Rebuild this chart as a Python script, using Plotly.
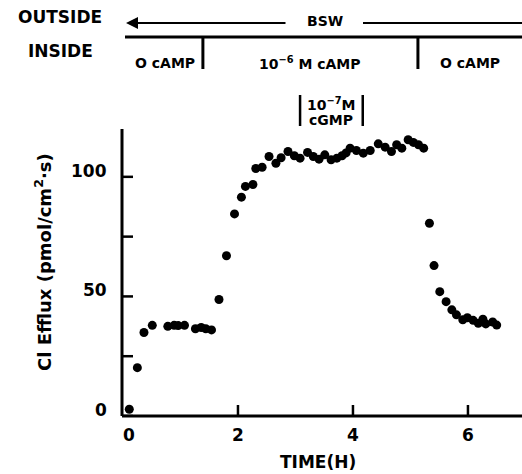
import plotly.graph_objects as go

# Data
time_h = [0.11, 0.25, 0.365, 0.51, 0.78, 0.89, 0.96, 1.07, 1.26, 1.36, 1.44, 1.54,
          1.67, 1.80, 1.94, 2.06, 2.13, 2.26, 2.31, 2.42, 2.54, 2.66, 2.75, 2.87,
          2.98, 3.08, 3.21, 3.31, 3.41, 3.51, 3.62, 3.72, 3.81, 3.88, 3.95, 4.06,
          4.18, 4.30, 4.44, 4.56, 4.67, 4.76, 4.85, 4.96, 5.05, 5.14, 5.23, 5.33,
          5.41, 5.51, 5.62, 5.72, 5.80, 5.91, 5.99, 6.09, 6.18, 6.26, 6.31, 6.43, 6.50]
cl_efflux = [2.8, 20.2, 34.9, 37.9, 37.5, 37.9, 37.8, 37.9, 36.5, 37.0, 36.5, 36.0,
             48.7, 67.0, 84.5, 91.5, 96.0, 96.8, 103.5, 104.0, 108.5, 105.7, 108.0, 110.6,
             108.8, 107.8, 110.2, 108.5, 107.4, 109.2, 107.1, 107.8, 108.8, 110.0, 112.0, 111.0,
             109.9, 111.0, 113.8, 112.4, 110.6, 113.4, 112.0, 115.5, 114.4, 113.4, 112.0, 80.6,
             62.9, 52.0, 47.8, 44.4, 42.3, 40.2, 41.1, 40.0, 38.8, 40.5, 38.5, 39.3, 38.0]

phase_bounds = [1.39, 5.13]          # cAMP added / removed (h)
phase_labels = ["O cAMP", "10<sup>\u22126</sup> M cAMP", "O cAMP"]
cgmp_window = [3.08, 4.17]           # 10^-7 M cGMP (h)

y_tickvals = [0, 25, 50, 75, 100]
y_ticktext = ["0", "", "50", "", "100"]
x_tickvals = [2, 4, 6]
x_ticklabel_vals = [0, 2, 4, 6]
x_ticktext = ["0", "2", "4", "6"]

FONT = "DejaVu Sans"
L, T, W, H = 122, 129, 400, 287
X0, X1 = -0.017, 6.94
Y0, Y1 = 0, 120

def px(xp):
    return (xp - L) / W

def py(yp):
    return (T + H - yp) / H

def bold_font(size):
    return dict(family=FONT, size=size, color="black", weight="bold")

fig = go.Figure()
fig.add_trace(go.Scatter(x=time_h, y=cl_efflux, mode="markers",
    marker=dict(color="black", size=9, line=dict(width=0)), showlegend=False))

shapes = []
annotations = []

# Axis lines and ticks
shapes.append(dict(type="line", xref="paper", yref="paper", x0=0, x1=0, y0=0, y1=1,
                   line=dict(color="black", width=3)))
shapes.append(dict(type="line", xref="paper", yref="paper", x0=0, x1=1, y0=0, y1=0,
                   line=dict(color="black", width=3)))
for v in y_tickvals:
    shapes.append(dict(type="line", xref="paper", yref="y", x0=0, x1=11 / W, y0=v, y1=v,
                       line=dict(color="black", width=2.5)))
for v in x_tickvals:
    shapes.append(dict(type="line", xref="x", yref="paper", x0=v, x1=v, y0=0, y1=11 / H,
                       line=dict(color="black", width=2.5)))
for v, t in zip(y_tickvals, y_ticktext):
    if t:
        annotations.append(dict(x=px(109), y=v, xref="paper", yref="y", text=t, yshift=6,
                                showarrow=False, font=bold_font(17),
                                xanchor="right", yanchor="middle"))
for v, t in zip(x_ticklabel_vals, x_ticktext):
    annotations.append(dict(x=v, y=py(435), xref="x", yref="paper", text=t,
                            xshift=6 if v == 0 else 0, showarrow=False, font=bold_font(17),
                            xanchor="center", yanchor="middle"))

# Top labels
annotations.append(dict(x=px(60), y=py(17), xref="paper", yref="paper", text="OUTSIDE",
                        showarrow=False, font=bold_font(17), xanchor="center", yanchor="middle"))
annotations.append(dict(x=px(60), y=py(51), xref="paper", yref="paper", text="INSIDE",
                        showarrow=False, font=bold_font(17), xanchor="center", yanchor="middle"))
# BSW arrow
annotations.append(dict(x=px(126), y=py(23), xref="paper", yref="paper", ax=161, ay=0,
                        axref="pixel", ayref="pixel", text="", showarrow=True,
                        arrowhead=2, arrowsize=1.2, arrowwidth=2, arrowcolor="black"))
annotations.append(dict(x=px(325), y=py(21), xref="paper", yref="paper", text="BSW",
                        showarrow=False, font=bold_font(14), xanchor="center", yanchor="middle"))
shapes.append(dict(type="line", xref="paper", yref="paper", x0=px(363), x1=px(522),
                   y0=py(23), y1=py(23), line=dict(color="black", width=2)))
# Inside line with phase boundaries
shapes.append(dict(type="line", xref="paper", yref="paper", x0=px(125), x1=px(522),
                   y0=py(37), y1=py(37), line=dict(color="black", width=3)))
for b in phase_bounds:
    shapes.append(dict(type="line", xref="x", yref="paper", x0=b, x1=b,
                       y0=py(37), y1=py(69), line=dict(color="black", width=3)))
edges = [X0 + (128 - L) / W * (X1 - X0)] + phase_bounds + [X1]
for i, lab in enumerate(phase_labels):
    cx = (edges[i] + edges[i + 1]) / 2
    annotations.append(dict(x=cx, y=py(63), xref="x", yref="paper", text=lab,
                            showarrow=False, font=bold_font(14), xanchor="center", yanchor="middle"))

# cGMP marker
for b in cgmp_window:
    shapes.append(dict(type="line", xref="x", yref="paper", x0=b, x1=b,
                       y0=py(95), y1=py(126), line=dict(color="black", width=2.5)))
annotations.append(dict(x=sum(cgmp_window) / 2, y=py(104), xref="x", yref="paper",
                        text="10<sup>\u22127</sup>M", showarrow=False, font=bold_font(14),
                        xanchor="center", yanchor="middle"))
annotations.append(dict(x=sum(cgmp_window) / 2, y=py(120), xref="x", yref="paper",
                        text="cGMP", showarrow=False, font=bold_font(14),
                        xanchor="center", yanchor="middle"))

# Axis titles
annotations.append(dict(x=px(43), y=py(262), xref="paper", yref="paper",
                        text="Cl Efflux (pmol/cm<sup>2</sup>\u00b7s)", textangle=-90,
                        showarrow=False, font=bold_font(18), xanchor="center", yanchor="middle"))
annotations.append(dict(x=px(318), y=py(462), xref="paper", yref="paper",
                        text="TIME(H)", showarrow=False, font=bold_font(17),
                        xanchor="center", yanchor="middle"))

fig.update_layout(
    width=522, height=474,
    margin=dict(l=L, r=522 - L - W, t=T, b=474 - T - H, pad=0),
    paper_bgcolor="white", plot_bgcolor="white",
    shapes=shapes, annotations=annotations,
    font=dict(family=FONT, color="black"),
    xaxis=dict(range=[X0, X1], showline=False, ticks="", showticklabels=False,
               showgrid=False, zeroline=False),
    yaxis=dict(range=[Y0, Y1], showline=False, ticks="", showticklabels=False,
               showgrid=False, zeroline=False),
)

fig.write_html("out.html")
